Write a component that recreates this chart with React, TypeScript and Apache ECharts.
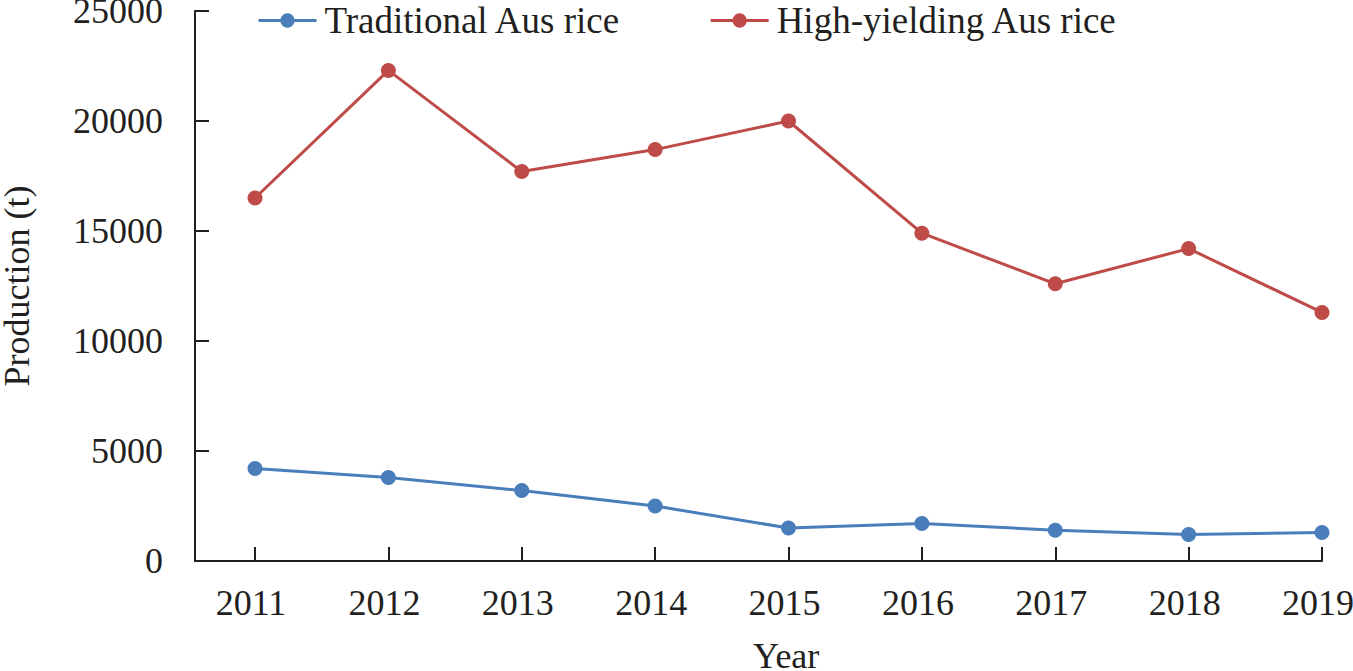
import React, { useEffect, useRef } from "react";
import * as echarts from "echarts";

const years = [2011, 2012, 2013, 2014, 2015, 2016, 2017, 2018, 2019];
const traditional = [4200, 3800, 3200, 2500, 1500, 1700, 1400, 1200, 1300];
const highYielding = [16500, 22300, 17700, 18700, 20000, 14900, 12600, 14200, 11300];

const FONT = "'Liberation Serif', 'Times New Roman', serif";
const TEXT = "#231f20";
const FS = 36;
const LFS = 37;

export default function App() {
  const ref = useRef<HTMLDivElement>(null);
  useEffect(() => {
    document.body.style.margin = "0";
    const chart = echarts.init(ref.current!, null, { renderer: "svg" });
    chart.setOption({
      animation: false,
      backgroundColor: "#ffffff",
      textStyle: { fontFamily: FONT, color: TEXT },
      grid: { left: 195, right: 31, top: 11, bottom: 110, containLabel: false, outerBoundsMode: "none" },
      legend: {
        left: 252,
        top: -3,
        itemWidth: 58,
        itemHeight: 18,
        itemGap: 88,
        lineStyle: { width: 3 },
        textStyle: { fontFamily: FONT, fontSize: LFS, color: TEXT, padding: [0, 0, 0, 3] },
        data: ["Traditional Aus rice", "High-yielding Aus rice"],
      },
      xAxis: {
        type: "value",
        min: 2010.55,
        max: 2019,
        splitLine: { show: false },
        axisLine: { lineStyle: { color: TEXT, width: 2 } },
        axisTick: {
          inside: true,
          length: 14,
          customValues: years,
          lineStyle: { color: TEXT, width: 2 },
        },
        axisLabel: {
          customValues: years,
          margin: 24,
          padding: [0, 8, 0, 0],
          fontFamily: FONT,
          fontSize: FS,
          color: TEXT,
          formatter: (v: number) => String(v),
        },
      },
      yAxis: {
        type: "value",
        min: 0,
        max: 25000,
        interval: 5000,
        name: "Production (t)",
        nameLocation: "middle",
        nameGap: 160,
        nameTextStyle: { fontFamily: FONT, fontSize: FS, color: TEXT },
        splitLine: { show: false },
        axisLine: { show: true, lineStyle: { color: TEXT, width: 2 } },
        axisTick: { show: true, inside: true, length: 14, lineStyle: { color: TEXT, width: 2 } },
        axisLabel: {
          margin: 32,
          fontFamily: FONT,
          fontSize: FS,
          color: TEXT,
          formatter: (v: number) => String(v),
        },
      },
      graphic: [
        {
          type: "text",
          left: 753,
          top: 638,
          style: { text: "Year", font: `${FS}px ${FONT}`, fill: TEXT },
        },
      ],
      series: [
        {
          name: "Traditional Aus rice",
          type: "line",
          data: years.map((y, i) => [y, traditional[i]]),
          symbol: "circle",
          symbolSize: 15,
          color: "#4a7ebb",
          lineStyle: { width: 3, color: "#4a7ebb" },
          itemStyle: { color: "#4a7ebb" },
        },
        {
          name: "High-yielding Aus rice",
          type: "line",
          data: years.map((y, i) => [y, highYielding[i]]),
          symbol: "circle",
          symbolSize: 15,
          color: "#be4b48",
          lineStyle: { width: 3, color: "#be4b48" },
          itemStyle: { color: "#be4b48" },
        },
      ],
    });
    return () => chart.dispose();
  }, []);
  return <div ref={ref} style={{ width: 1353, height: 671 }} />;
}
